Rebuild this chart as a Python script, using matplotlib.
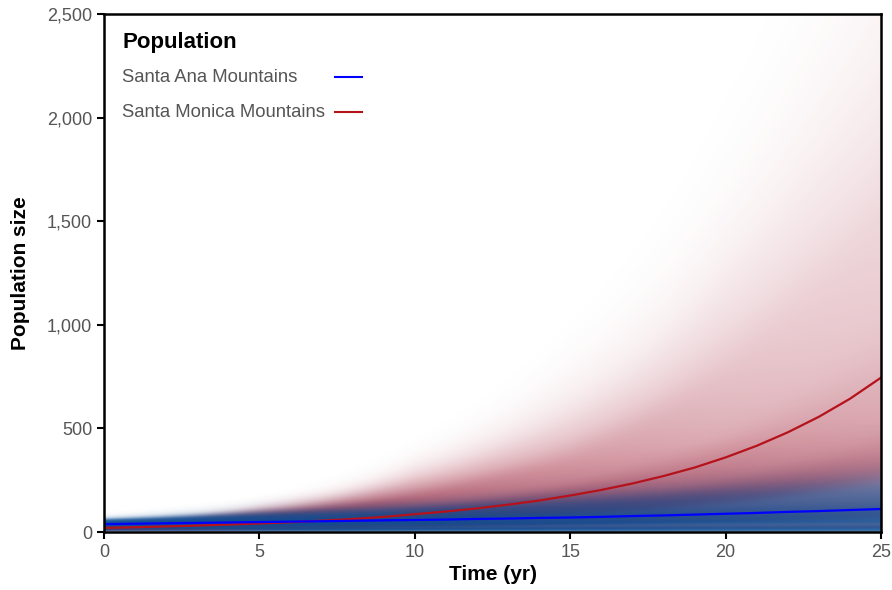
import matplotlib
matplotlib.use("Agg")
import matplotlib.pyplot as plt
import numpy as np
from matplotlib.colors import to_rgb

plt.rcParams['font.family'] = ['Liberation Sans', 'DejaVu Sans']

# quantile summaries of the simulated trajectories, read off the fan
q_times = [0, 2.5, 5, 7.5, 10, 12.5, 15, 17.5, 20, 22.5, 25]
q_levels = [0.0, 0.001, 0.05, 0.25, 0.5, 0.75, 0.95, 0.99, 0.999, 1.0]

monica_q = [
    [2, 2, 2, 2, 2, 2, 2, 2, 2, 2, 2],
    [8, 9, 10, 11, 12, 13, 14, 15, 16, 17, 18],
    [12, 15, 18, 22, 27, 32, 38, 45, 52, 60, 70],
    [16, 21, 28, 37, 49, 65, 86, 112, 148, 195, 255],
    [20, 26, 36, 50, 68, 92, 125, 170, 232, 315, 430],
    [24, 32, 48, 72, 105, 150, 210, 300, 420, 600, 850],
    [30, 45, 75, 120, 190, 280, 400, 590, 880, 1250, 1700],
    [35, 55, 95, 150, 250, 370, 550, 800, 1200, 1700, 2300],
    [40, 65, 115, 185, 310, 470, 720, 1050, 1550, 2200, 3000],
    [48, 80, 140, 230, 380, 580, 900, 1300, 1950, 2800, 3800],
]
ana_q = [
    [0, 0, 0, 0, 0, 0, 0, 0, 0, 0, 0],
    [5, 3, 2, 2, 2, 2, 2, 2, 2, 2, 2],
    [20, 15, 12, 10, 10, 10, 10, 10, 10, 10, 10],
    [30, 30, 31, 32, 34, 36, 38, 40, 42, 44, 46],
    [37, 40, 44, 48, 52, 57, 62, 67, 72, 78, 84],
    [43, 50, 57, 64, 72, 81, 91, 102, 114, 127, 140],
    [50, 62, 75, 88, 103, 120, 139, 159, 180, 200, 222],
    [55, 70, 87, 104, 123, 144, 167, 191, 216, 242, 270],
    [62, 82, 104, 127, 151, 178, 206, 236, 268, 300, 335],
    [75, 105, 140, 175, 210, 245, 280, 315, 355, 395, 440],
]

# mean trajectories, one value per year
years = list(range(26))
monica_mean = [20, 23, 27, 31, 36, 41, 47, 55, 63, 73, 86, 99, 114, 132, 152,
               176, 203, 234, 270, 311, 360, 416, 481, 556, 643, 745]
ana_mean = [38, 40, 42, 44, 46, 48, 50, 52, 54, 56, 58, 60, 63, 65, 68,
            70, 73, 77, 80, 84, 88, 92, 97, 101, 106, 111]

legend_title = 'Population'
legend_labels = ['Santa Ana Mountains', 'Santa Monica Mountains']
legend_colors = ['#0000ff', '#b5121b']


def density_image(qs, color, d0, gamma, amax, sigma=0.12):
    # turn the quantile curves into a smooth density shading (RGBA image)
    qs = np.log1p(np.array(qs, dtype=float))
    xs = np.linspace(0, 25, 500)
    ys = np.linspace(0, 2500, 1801)
    u = np.linspace(0, np.log1p(8000), 1500)
    du = u[1] - u[0]
    k = np.arange(-4 * sigma, 4 * sigma + du, du)
    kern = np.exp(-0.5 * (k / sigma) ** 2)
    kern /= kern.sum()
    rgba = np.zeros((len(ys), len(xs), 4))
    rgba[..., :3] = to_rgb(color)
    for j, x in enumerate(xs):
        col = np.array([np.interp(x, q_times, row) for row in qs])
        cdf = np.interp(u, col, q_levels)
        pdf_u = np.convolve(np.gradient(cdf, u), kern, mode='same')
        dens = np.clip(np.interp(np.log1p(ys), u, pdf_u) / (1 + ys), 0, None)
        rgba[:, j, 3] = amax * (1 - np.exp(-(dens / d0) ** gamma))
    return rgba


fig, ax = plt.subplots(figsize=(8.92, 5.90), dpi=100)
fig.subplots_adjust(left=0.1166, right=0.9877, bottom=0.0983, top=0.9763)

ext = [0, 25, 0, 2500]
ax.imshow(density_image(monica_q, '#9e162d', 0.0018, 0.7, 0.96), extent=ext,
          origin='lower', aspect='auto', interpolation='bilinear', zorder=1)
ax.imshow(density_image(ana_q, '#0a4f96', 0.0024, 0.6, 0.97, sigma=0.1), extent=ext,
          origin='lower', aspect='auto', interpolation='bilinear', zorder=2)

ax.plot(years, ana_mean, color=legend_colors[0], lw=1.6, zorder=4)
ax.plot(years, monica_mean, color=legend_colors[1], lw=1.6, zorder=3)

ax.set_xlim(0, 25)
ax.set_ylim(0, 2500)
ax.set_xticks([0, 5, 10, 15, 20, 25])
ax.set_yticks([0, 500, 1000, 1500, 2000, 2500])
ax.yaxis.set_major_formatter(matplotlib.ticker.FuncFormatter(lambda v, p: f'{int(v):,}'))
ax.tick_params(direction='out', length=5, width=1.5, color='black',
               labelsize=13, labelcolor='#555555')
for s in ax.spines.values():
    s.set_linewidth(1.8)
    s.set_color('black')
    s.set_zorder(5)

ax.set_xlabel('Time (yr)', fontsize=15, fontweight='bold', labelpad=3)
ax.set_ylabel('Population size', fontsize=15, fontweight='bold', labelpad=12)

# legend drawn by hand: labels left aligned, line keys to the right
ax.text(0.0232, 0.944, legend_title, transform=ax.transAxes, fontsize=16,
        fontweight='bold', va='center', ha='left', zorder=6)
for i, (lab, c) in enumerate(zip(legend_labels, legend_colors)):
    yy = 0.878 - i * 0.068
    ax.text(0.0232, yy, lab, transform=ax.transAxes, fontsize=13.3,
            color='#555555', va='center', ha='left', zorder=6)
    ax.plot([0.297, 0.332], [yy, yy], transform=ax.transAxes, color=c,
            lw=1.5, zorder=6)

plt.savefig('out.png', dpi=100)
